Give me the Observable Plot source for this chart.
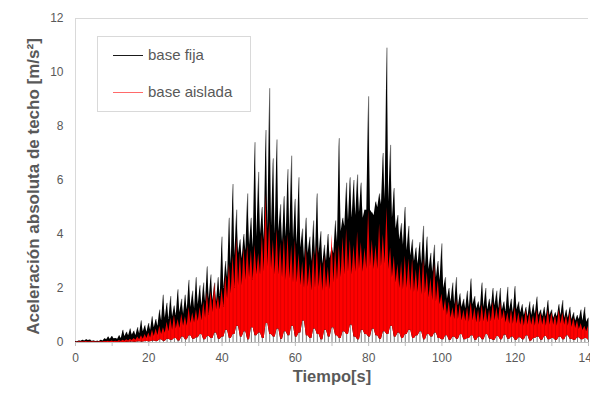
<!DOCTYPE html>
<html><head><meta charset="utf-8">
<script src="https://cdn.jsdelivr.net/npm/d3@7"></script>
<script src="https://cdn.jsdelivr.net/npm/@observablehq/plot@0.6"></script>
<style>
html,body{margin:0;padding:0;background:#fff;overflow:hidden}
#wrap{position:relative;width:590px;height:394px;font-family:"Liberation Sans",Arial,sans-serif}
#legend{position:absolute;left:97px;top:36px;width:154px;height:76px;border:1px solid #d9d9d9;background:#fff;box-sizing:border-box}
.sw{position:absolute;left:15px;width:30px;height:1px}
.lt{position:absolute;left:50px;font-size:15px;line-height:18px;color:#595959;white-space:nowrap}
</style></head><body>
<div id="wrap"><div id="chart"></div>
<div id="legend">
  <div class="sw" style="top:18px;background:#1a1a1a"></div><div class="lt" style="top:9px">base fija</div>
  <div class="sw" style="top:55px;background:#ff6a6a"></div><div class="lt" style="top:46px">base aislada</div>
</div></div>
<script>
// Spike tops per second (base fija), t = 0..140 s
const fijaPeak = [0.04,0.06,0.08,0.1,0.09,0.06,0.05,0.08,0.14,0.2,
 0.22,0.15,0.25,0.45,0.38,0.5,0.42,0.55,0.8,0.62,
 0.7,0.95,0.85,1.2,1.75,1.45,1.7,1.35,1.95,1.6,
 1.75,2.3,1.9,2.4,2.1,2.2,2.8,2.5,2.2,2.4,
 3.9,3.0,4.6,5.85,4.9,3.8,4.0,5.5,4.6,7.4,
 6.3,5.0,7.85,9.4,6.8,7.5,5.1,5.4,6.4,6.9,
 5.3,6.1,4.2,4.6,3.9,4.5,5.5,4.1,3.6,4.0,
 3.5,4.5,7.55,4.6,5.9,6.1,6.0,6.2,5.9,4.9,
 9.1,4.8,5.2,5.5,7.0,10.9,7.3,5.7,4.7,4.4,
 5.0,4.3,3.8,3.5,3.7,4.3,3.9,3.3,3.6,3.0,
 3.65,2.4,2.0,2.2,2.4,1.8,1.6,1.9,2.35,1.7,
 1.5,2.2,2.0,1.6,2.0,1.9,2.0,1.5,2.04,1.6,
 2.07,1.5,1.4,1.3,1.5,1.4,1.68,1.2,1.3,1.55,
 1.2,1.1,1.4,1.55,1.2,1.3,1.1,1.0,1.2,1.3,
 0.9];
// Level between spikes (base fija), t = 0.5..139.5 s
const fijaTrough = [0.03,0.05,0.06,0.07,0.05,0.04,0.04,0.06,0.1,0.12,
 0.14,0.12,0.15,0.22,0.25,0.28,0.26,0.32,0.4,0.38,
 0.45,0.55,0.6,0.8,0.9,0.85,0.95,1.0,1.1,1.05,
 1.2,1.3,1.25,1.4,1.35,1.5,1.6,1.55,1.5,1.7,
 2.0,2.4,2.9,3.2,3.3,3.1,3.4,3.6,3.5,3.9,
 4.0,3.8,4.2,4.3,4.0,4.1,3.7,3.9,4.0,3.8,
 3.6,3.5,3.1,3.3,3.0,3.2,3.3,2.9,3.0,3.1,
 3.3,3.7,4.1,4.3,4.5,4.6,4.7,4.8,4.6,4.9,
 4.9,4.7,5.0,5.1,5.3,5.2,4.6,4.2,3.8,3.6,
 3.4,3.2,3.0,2.9,2.9,2.8,2.7,2.6,2.4,2.3,
 2.0,1.6,1.5,1.4,1.35,1.3,1.25,1.3,1.4,1.25,
 1.25,1.3,1.2,1.3,1.35,1.25,1.2,1.15,1.2,1.1,
 1.2,1.1,1.0,0.95,1.0,1.05,1.0,0.95,0.95,1.0,
 0.9,0.95,1.0,0.9,0.9,0.85,0.8,0.85,0.8,0.75];
// Spike tops per second (base aislada), t = 0..140 s
const aisladaPeak = [0.02,0.03,0.03,0.04,0.03,0.03,0.02,0.03,0.04,0.05,
 0.06,0.05,0.07,0.08,0.1,0.12,0.15,0.2,0.25,0.3,
 0.35,0.45,0.5,0.6,0.55,0.75,0.9,1.0,0.85,1.05,
 0.95,1.3,1.1,1.2,1.3,1.5,1.85,1.9,2.2,1.7,
 2.0,2.5,2.9,3.2,3.9,3.3,3.5,3.6,3.4,3.6,
 3.3,4.0,5.5,4.5,3.8,4.2,3.7,3.9,4.0,3.6,
 3.8,3.3,3.0,3.5,2.9,3.4,3.6,3.0,3.2,2.8,
 4.0,3.5,3.6,3.9,4.2,3.8,3.6,4.1,3.7,3.5,
 4.9,3.8,3.6,4.4,4.0,5.0,3.5,3.2,2.9,3.0,
 3.2,3.1,3.1,2.7,2.9,3.1,2.6,2.4,2.9,2.3,
 1.8,1.6,1.5,1.3,1.6,1.4,1.2,1.3,1.5,1.3,
 1.2,1.4,1.3,1.2,1.5,1.3,1.5,1.2,1.1,1.2,
 1.3,1.1,1.0,1.2,1.1,1.0,1.2,1.1,1.0,1.2,
 1.1,1.0,1.2,1.1,1.0,1.1,0.9,0.8,0.7,0.6,
 0.6];
// Level between spikes (base aislada), t = 0.5..139.5 s
const aisladaTrough = [0.01,0.02,0.02,0.02,0.02,0.02,0.02,0.02,0.03,0.03,
 0.03,0.03,0.04,0.05,0.06,0.07,0.08,0.1,0.12,0.15,
 0.17,0.22,0.26,0.3,0.34,0.4,0.45,0.5,0.52,0.6,
 0.6,0.7,0.72,0.78,0.8,0.9,1.0,1.1,1.2,1.2,
 1.3,1.6,1.8,2.0,2.1,2.1,2.3,2.4,2.3,2.5,
 2.5,2.6,2.8,2.7,2.5,2.5,2.4,2.3,2.35,2.2,
 2.2,2.1,2.0,2.05,1.9,2.0,2.05,1.9,2.0,1.95,
 2.2,2.3,2.4,2.5,2.6,2.5,2.6,2.7,2.6,2.7,
 2.8,2.7,2.7,2.8,2.9,2.7,2.4,2.2,2.0,1.95,
 2.0,1.9,1.85,1.85,1.75,1.8,1.65,1.55,1.5,1.4,
 1.15,1.0,0.9,0.85,0.85,0.8,0.78,0.75,0.8,0.72,
 0.72,0.76,0.72,0.76,0.8,0.8,0.84,0.72,0.68,0.68,
 0.68,0.64,0.6,0.64,0.64,0.6,0.64,0.64,0.6,0.64,
 0.64,0.6,0.68,0.64,0.6,0.56,0.52,0.48,0.44,0.4];
// Lower edge of the dense band per second (white gaps above the axis), t = 0..140 s
const bandLow = [0,0,0,0,0,0,0,0,0,0,
 0,0,0.01,0,0.01,0.02,0.01,0.03,0.02,0.04,
 0.03,0.06,0.04,0.1,0.05,0.12,0.08,0.15,0.06,0.2,
 0.1,0.25,0.12,0.18,0.3,0.1,0.22,0.15,0.35,0.12,
 0.2,0.45,0.15,0.3,0.6,0.2,0.4,0.1,0.55,0.25,
 0.35,0.15,0.7,0.3,0.2,0.5,0.12,0.4,0.25,0.6,
 0.2,0.35,0.8,0.25,0.15,0.5,0.3,0.1,0.45,0.2,
 0.55,0.25,0.15,0.4,0.3,0.65,0.2,0.1,0.45,0.3,
 0.2,0.5,0.25,0.12,0.4,0.3,0.6,0.2,0.35,0.15,
 0.3,0.45,0.15,0.25,0.4,0.1,0.3,0.2,0.35,0.15,
 0.1,0.25,0.08,0.2,0.12,0.3,0.1,0.15,0.25,0.08,
 0.2,0.1,0.3,0.12,0.08,0.22,0.1,0.28,0.12,0.2,
 0.08,0.18,0.1,0.25,0.06,0.15,0.2,0.08,0.22,0.1,
 0.15,0.08,0.2,0.1,0.25,0.12,0.08,0.18,0.1,0.15,
 0.08];
const xTicks = [0,20,40,60,80,100,120,140];
const xMinorTicks = [0,10,20,30,40,50,60,70,80,90,100,110,120,130,140];
const yTicks = [0,2,4,6,8,10,12];

// Zigzag tables: spike tops at whole seconds, troughs at half seconds
function series(peaks, troughs, lows) {
  const rows = [];
  peaks.forEach((v, i) => {
    rows.push({t: i, v, lo: lows[i]});
    if (i < troughs.length) rows.push({t: i + 0.5, v: troughs[i], lo: lows[i]});
  });
  return rows;
}
const fija = series(fijaPeak, fijaTrough, bandLow);
const aislada = series(aisladaPeak, aisladaTrough, bandLow);
const fijaSpikes = fijaPeak.map((v, i) => ({t: i, v}));

const chart = Plot.plot({
  width: 590, height: 394,
  marginLeft: 75, marginRight: 2, marginTop: 18, marginBottom: 52,
  x: {domain:[0,140]},
  y: {domain:[0,12]},
  style: {fontFamily:"'Liberation Sans', Arial, sans-serif", fontSize:"12px", color:"#595959", background:"white"},
  marks: [
    Plot.ruleY([12], {stroke:"#d9d9d9"}),
    Plot.ruleX([0], {stroke:"#d9d9d9"}),
    Plot.ruleX(fijaSpikes, {x:"t", y1:0, y2:"v", stroke:"black", strokeWidth:0.7, strokeOpacity:0.6}),
    Plot.areaY(fija, {x:"t", y1:"lo", y2:"v", fill:"black"}),
    Plot.areaY(aislada, {x:"t", y1:"lo", y2:"v", fill:"#ff0000"}),
    Plot.ruleX(fijaSpikes, {x:"t", y1:0, y2:"v", stroke:"black", strokeWidth:0.6, strokeOpacity:0.25}),
    Plot.ruleY([0], {stroke:"#bfbfbf"}),
    Plot.axisX({ticks:xMinorTicks, tickSize:4, text:null, stroke:"#bfbfbf", label:null}),
    Plot.axisX({ticks:xTicks, tickSize:0, tickPadding:11, label:null, fill:"#595959"}),
    Plot.axisY({ticks:yTicks, tickSize:0, tickPadding:12, label:null, fill:"#595959"}),
    Plot.text(["Tiempo[s]"], {frameAnchor:"bottom", dy:39, fontSize:16.5, fontWeight:"bold", fill:"#595959"}),
    Plot.text(["Aceleración absoluta de techo [m/s²]"], {frameAnchor:"left", textAnchor:"middle", dx:-42, dy:6, rotate:-90, fontSize:17, fontWeight:"bold", fill:"#595959"})
  ]
});
document.getElementById("chart").appendChild(chart);
</script>
</body></html>
